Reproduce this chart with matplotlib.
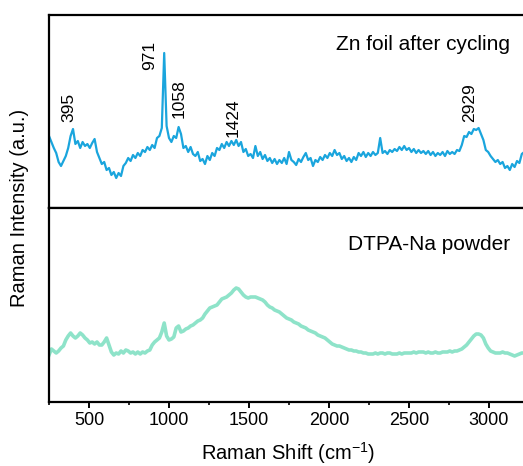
import numpy as np
import matplotlib
matplotlib.use("Agg")
import matplotlib.pyplot as plt
from matplotlib.ticker import MultipleLocator

plt.rcParams["font.family"] = ["Liberation Sans", "DejaVu Sans"]
plt.rcParams["mathtext.default"] = "regular"

# Raman shift grid (cm-1), spectra sampled every 15 cm-1
shift = np.arange(250, 3221, 15)

zn_foil = [
    72, 66, 60, 55, 46, 42, 47, 52, 60, 72, 79, 64, 67, 60, 66, 62, 64, 60, 65, 69,
    56, 50, 44, 46, 38, 40, 33, 36, 30, 35, 32, 42, 45, 50, 47, 53, 50, 55, 52, 58,
    56, 61, 58, 63, 60, 70, 72, 80, 155, 82, 70, 66, 72, 70, 81, 74, 60, 62, 56, 61,
    54, 52, 56, 47, 49, 44, 52, 48, 55, 52, 60, 58, 64, 60, 66, 62, 67, 63, 68, 62,
    66, 56, 59, 52, 54, 50, 62, 52, 56, 49, 53, 47, 50, 45, 49, 44, 48, 45, 50, 44,
    56, 48, 46, 43, 49, 46, 51, 55, 48, 50, 42, 48, 46, 51, 48, 53, 50, 55, 52, 58,
    53, 55, 49, 52, 47, 50, 46, 51, 48, 55, 52, 56, 51, 55, 52, 56, 53, 55, 70, 55,
    57, 54, 58, 56, 59, 57, 61, 58, 62, 58, 60, 56, 59, 55, 58, 55, 57, 54, 57, 53,
    56, 52, 55, 53, 56, 52, 57, 54, 56, 54, 58, 57, 63, 72, 71, 76, 74, 79, 78, 80,
    74, 68, 58, 56, 52, 49, 46, 48, 44, 46, 40, 42, 38, 44, 41, 47, 45, 54, 56,
]

dtpa_na = [
    47, 53, 51, 49, 51, 54, 56, 62, 66, 69, 66, 64, 66, 69, 67, 64, 62, 59, 60, 58,
    60, 57, 57, 60, 64, 57, 50, 47, 49, 48, 51, 49, 52, 51, 49, 50, 48, 50, 48, 50,
    49, 51, 52, 57, 60, 62, 64, 70, 79, 66, 62, 63, 65, 74, 76, 70, 71, 73, 74, 76,
    77, 79, 81, 82, 84, 88, 91, 94, 95, 96, 97, 100, 103, 104, 105, 107, 109, 112, 114, 113,
    110, 107, 105, 104, 105, 105, 105, 104, 103, 102, 100, 97, 95, 94, 92, 91, 90, 88, 86, 84,
    83, 82, 80, 79, 78, 76, 75, 74, 72, 71, 70, 69, 67, 66, 65, 64, 62, 60, 58, 57,
    56, 56, 55, 54, 53, 52, 52, 51, 51, 50, 50, 49, 49, 48, 48, 48, 49, 48, 49, 49,
    48, 49, 49, 48, 48, 48, 49, 48, 49, 49, 49, 49, 50, 49, 50, 50, 50, 49, 50, 49,
    49, 50, 49, 49, 50, 50, 50, 51, 50, 51, 51, 52, 53, 55, 57, 60, 63, 66, 68, 68,
    67, 64, 58, 54, 51, 50, 49, 49, 49, 50, 49, 49, 48, 47, 46, 47, 48, 49, 49,
]

peak_labels = ["395", "971", "1058", "1424", "2929"]
# label anchor (x in cm-1, y in intensity units)
label_x = [377, 881, 1064, 1402, 2881]
label_y = [86, 138, 90, 71, 86]

W, H = 523, 466
fig = plt.figure(figsize=(W / 100, H / 100), dpi=100)
left = 49 / W
width = (530 - 49) / W
ax1 = fig.add_axes([left, (H - 208) / H, width, 193 / H])
ax2 = fig.add_axes([left, (H - 402) / H, width, 194 / H], sharex=ax1)

ax1.plot(shift, zn_foil, color="#1aa5dd", lw=1.6)
ax2.plot(shift, dtpa_na, color="#8ee3c9", lw=2.6)

ax1.set_ylim(0, 193)
ax2.set_ylim(0, 194)
ax1.set_xlim(250, 250 + 481 * 6.25)

for lab, x, y in zip(peak_labels, label_x, label_y):
    ax1.text(x, y, lab, rotation=90, ha="center", va="bottom", fontsize=12.5)

ax1.text(0.958, 0.845, "Zn foil after cycling", transform=ax1.transAxes,
         ha="right", va="center", fontsize=15)
ax2.text(0.958, 0.81, "DTPA-Na powder", transform=ax2.transAxes,
         ha="right", va="center", fontsize=15)

for ax in (ax1, ax2):
    for s in ax.spines.values():
        s.set_linewidth(1.6)
    ax.set_yticks([])

ax1.tick_params(axis="x", which="both", bottom=False, labelbottom=False)
ax2.xaxis.set_major_locator(MultipleLocator(500))
ax2.xaxis.set_minor_locator(MultipleLocator(250))
ax2.tick_params(axis="x", which="major", length=4, width=1.4, labelsize=13, direction="out")
ax2.tick_params(axis="x", which="minor", length=2.5, width=1.2, direction="out")

fig.text(20 / W, 1 - 208 / H, "Raman Intensity (a.u.)", rotation=90,
         ha="center", va="center", fontsize=14.5)
fig.text(288 / W, 1 - 453 / H, "Raman Shift (cm$^{-1}$)", ha="center",
         va="center", fontsize=14.5)

fig.savefig("out.png", dpi=100)
